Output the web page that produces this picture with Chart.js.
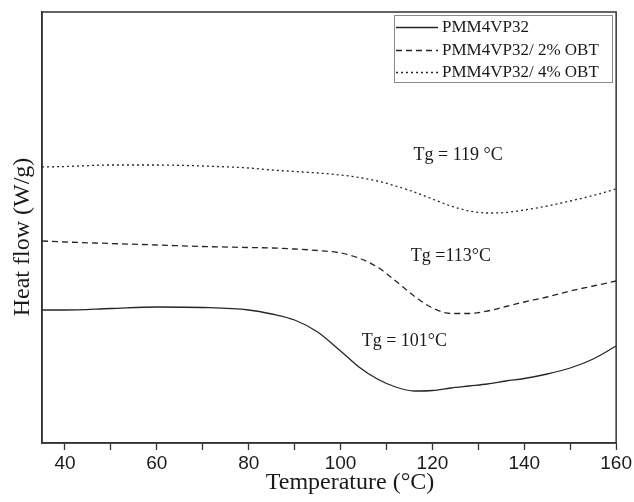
<!DOCTYPE html>
<html>
<head>
<meta charset="utf-8">
<script src="https://cdn.jsdelivr.net/npm/chart.js@4/dist/chart.umd.min.js"></script>
<style>
  html, body { margin: 0; padding: 0; background: #fff; }
  #wrap { width: 634px; height: 502px; }
</style>
</head>
<body>
<div id="wrap"><canvas id="graph" width="634" height="502"></canvas></div>
<script>
// temperature (°C) and heat flow readings (arbitrary units, offset per curve)
var temps = [35, 40, 50, 60, 70, 80, 85, 90, 95, 100, 104, 108, 112, 116, 120, 124, 128, 132, 136, 140, 145, 150, 155, 160];
var flow_0 = [13.3, 13.3, 13.45, 13.6, 13.55, 13.3, 12.9, 12.3, 11.1, 9.2, 7.6, 6.4, 5.6, 5.2, 5.25, 5.5, 5.7, 5.9, 6.2, 6.45, 6.9, 7.5, 8.4, 9.7];
var flow_2 = [20.2, 20.1, 19.95, 19.8, 19.65, 19.55, 19.5, 19.4, 19.25, 19.0, 18.5, 17.6, 16.2, 14.7, 13.5, 12.95, 12.95, 13.2, 13.65, 14.1, 14.6, 15.2, 15.7, 16.2];
var flow_4 = [27.6, 27.65, 27.8, 27.8, 27.7, 27.5, 27.3, 27.15, 27.0, 26.8, 26.55, 26.2, 25.7, 25.1, 24.4, 23.7, 23.2, 23.0, 23.05, 23.3, 23.7, 24.2, 24.75, 25.4];
var series_names = ['PMM4VP32', 'PMM4VP32/ 2% OBT', 'PMM4VP32/ 4% OBT'];
var x_ticks = [40, 60, 80, 100, 120, 140, 160];

// Tg notes
var tg_labels = ['Tg = 119 °C', 'Tg =113°C', 'Tg = 101°C'];
var tg_temps = [115.9, 115.3, 104.6];
var tg_levels = [28.8, 18.7, 10.2];

var line_color = '#262626';
var dashes = [[], [6, 4], [2, 3]];
var serif = '"Liberation Serif", "Times New Roman", serif';

function points(ys){
    return temps.map(function(t, i){ return {x: t, y: ys[i]}; });
}

function make_set(name, ys, dash){
    return {
        label: name,
        data: points(ys),
        borderColor: line_color,
        borderWidth: 1.3,
        borderDash: dash,
        pointRadius: 0,
        fill: false,
        cubicInterpolationMode: 'monotone'
    };
}

var extras = {
    id: 'extras',
    afterDraw: function(chart){
        var ctx = chart.ctx;
        var a = chart.chartArea;
        var xs = chart.scales.x, ys = chart.scales.y;
        ctx.save();

        // frame
        ctx.strokeStyle = '#333';
        ctx.lineWidth = 1.5;
        ctx.strokeRect(a.left, a.top, a.right - a.left, a.bottom - a.top);

        // Tg notes
        ctx.fillStyle = '#1a1a1a';
        ctx.font = '18px ' + serif;
        ctx.textBaseline = 'middle';
        ctx.textAlign = 'left';
        for (var i = 0; i < tg_labels.length; i++){
            ctx.fillText(tg_labels[i], xs.getPixelForValue(tg_temps[i]), ys.getPixelForValue(tg_levels[i]));
        }

        // legend box
        ctx.strokeStyle = '#8a8a8a';
        ctx.lineWidth = 1;
        ctx.strokeRect(394.5, 15.5, 218, 67);
        var rows = [27, 50, 72];
        ctx.font = '17px ' + serif;
        chart.data.datasets.forEach(function(ds, k){
            ctx.strokeStyle = line_color;
            ctx.lineWidth = 1.3;
            ctx.setLineDash(ds.borderDash);
            ctx.beginPath();
            ctx.moveTo(396, rows[k] + 0.5);
            ctx.lineTo(438, rows[k] + 0.5);
            ctx.stroke();
            ctx.setLineDash([]);
            ctx.fillText(ds.label, 442, rows[k] + 1);
        });

        // axis titles
        ctx.font = '24px ' + serif;
        ctx.textAlign = 'center';
        ctx.textBaseline = 'alphabetic';
        ctx.fillText('Temperature (°C)', 350, 489);
        ctx.translate(29, 237);
        ctx.rotate(-Math.PI / 2);
        ctx.fillText('Heat flow (W/g)', 0, 0);
        ctx.restore();
    }
};

var chart = new Chart(document.getElementById('graph').getContext('2d'), {
    type: 'line',
    data: {
        datasets: [
            make_set(series_names[0], flow_0, dashes[0]),
            make_set(series_names[1], flow_2, dashes[1]),
            make_set(series_names[2], flow_4, dashes[2])
        ]
    },
    options: {
        responsive: false,
        animation: false,
        layout: { padding: { top: 12, right: 16, left: 0, bottom: 0 } },
        plugins: { legend: { display: false }, tooltip: { enabled: false } },
        scales: {
            x: {
                type: 'linear',
                min: 35,
                max: 160,
                afterFit: function(s){ s.height = 59; },
                afterBuildTicks: function(s){
                    var list = [];
                    for (var v = 40; v <= 160; v += 10) list.push({value: v});
                    s.ticks = list;
                },
                grid: {
                    drawOnChartArea: false,
                    drawTicks: true,
                    tickLength: 7,
                    tickColor: '#333',
                    tickWidth: 1.3
                },
                border: { display: true, color: '#333', width: 1.5 },
                ticks: {
                    autoSkip: false,
                    maxRotation: 0,
                    padding: 2,
                    color: '#1a1a1a',
                    font: { family: '"Liberation Sans", Arial, sans-serif', size: 19 },
                    callback: function(v){ return x_ticks.indexOf(v) >= 0 ? String(v) : ''; }
                }
            },
            y: {
                min: 0,
                max: 43.1,
                afterFit: function(s){ s.width = 42; },
                grid: { display: false, drawTicks: false },
                border: { display: true, color: '#333', width: 1.5 },
                ticks: { display: false }
            }
        }
    },
    plugins: [extras]
});
</script>
</body>
</html>
